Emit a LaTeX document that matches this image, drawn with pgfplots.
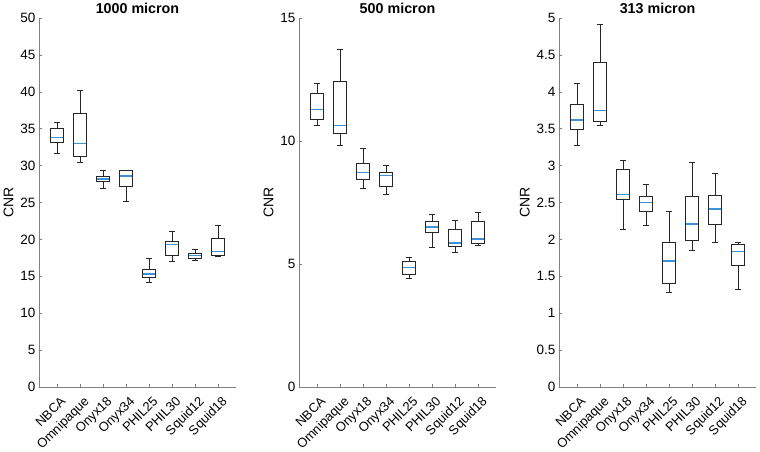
\documentclass[border=0pt]{standalone}
\usepackage{pgfplots}
\pgfplotsset{compat=1.18}
\usepgfplotslibrary{statistics}
\usepackage{fontspec}
\setmainfont{Liberation Sans}
\definecolor{mblue}{RGB}{60,145,215}
\definecolor{axgray}{RGB}{128,128,128}

\pgfplotsset{
  cnr/.style={
    scale only axis, width=197pt, height=369pt,
    anchor=south west,
    xmin=0.22, xmax=8.78,
    axis x line*=bottom, axis y line*=left,
    axis line style={-, axgray, line width=0.5pt},
    xtick={1,...,8},
    xticklabels={NBCA,Omnipaque,Onyx18,Onyx34,PHIL25,PHIL30,Squid12,Squid18},
    xticklabel style={font=\fontsize{13}{13}\selectfont, xshift=3pt, yshift=-7pt, rotate=45, anchor=north east, inner sep=1pt},
    yticklabel style={font=\fontsize{13.5}{13.5}\selectfont},
    tick align=inside, major tick length=3pt, tick style={axgray, line width=0.5pt},
    ylabel={CNR}, ylabel style={font=\fontsize{14}{14}\selectfont},
    title style={font=\bfseries\fontsize{14.3}{14.3}\selectfont, at={(0.5,1)}, anchor=base, yshift=-1pt},
    /pgf/number format/assume math mode=true,
    boxplot/draw direction=y,
    boxplot/box extend=0.56, boxplot/whisker extend=0.28,
    boxplot/every median/.style={mblue, line width=1.4pt},
  },
  bx/.style={black!85, line width=0.7pt, solid},
}

\begin{document}
\begin{tikzpicture}
\path[use as bounding box] (0,0) rectangle (760pt,451pt);

% ---------------- 1000 micron ----------------
\begin{axis}[cnr, at={(39pt,64pt)}, title={1000 micron},
  ymin=0, ymax=50, ytick={0,5,...,50}]
\addplot[bx, boxplot prepared={draw position=1, lower whisker=31.7, lower quartile=33.2, median=33.8, upper quartile=35.1, upper whisker=35.9}] coordinates {};
\addplot[bx, boxplot prepared={draw position=2, lower whisker=30.5, lower quartile=31.2, median=33.0, upper quartile=37.1, upper whisker=40.2}] coordinates {};
\addplot[bx, boxplot prepared={draw position=3, lower whisker=26.9, lower quartile=27.8, median=28.2, upper quartile=28.5, upper whisker=29.4}] coordinates {};
\addplot[bx, boxplot prepared={draw position=4, lower whisker=25.1, lower quartile=27.2, median=28.6, upper quartile=29.3, upper whisker=29.4}] coordinates {};
\addplot[bx, boxplot prepared={draw position=5, lower whisker=14.2, lower quartile=14.8, median=15.3, upper quartile=15.9, upper whisker=17.5}] coordinates {};
\addplot[bx, boxplot prepared={draw position=6, lower whisker=17.0, lower quartile=17.8, median=19.3, upper quartile=19.7, upper whisker=21.1}] coordinates {};
\addplot[bx, boxplot prepared={draw position=7, lower whisker=17.2, lower quartile=17.4, median=17.8, upper quartile=18.1, upper whisker=18.6}] coordinates {};
\addplot[bx, boxplot prepared={draw position=8, lower whisker=17.7, lower quartile=17.8, median=18.4, upper quartile=20.1, upper whisker=21.9}] coordinates {};
\end{axis}

% ---------------- 500 micron ----------------
\begin{axis}[cnr, at={(299pt,64pt)}, title={500 micron},
  ymin=0, ymax=15, ytick={0,5,10,15}]
\addplot[bx, boxplot prepared={draw position=1, lower whisker=10.63, lower quartile=10.89, median=11.28, upper quartile=11.95, upper whisker=12.33}] coordinates {};
\addplot[bx, boxplot prepared={draw position=2, lower whisker=9.84, lower quartile=10.32, median=10.62, upper quartile=12.43, upper whisker=13.71}] coordinates {};
\addplot[bx, boxplot prepared={draw position=3, lower whisker=8.09, lower quartile=8.45, median=8.73, upper quartile=9.10, upper whisker=9.69}] coordinates {};
\addplot[bx, boxplot prepared={draw position=4, lower whisker=7.85, lower quartile=8.15, median=8.60, upper quartile=8.72, upper whisker=9.02}] coordinates {};
\addplot[bx, boxplot prepared={draw position=5, lower whisker=4.43, lower quartile=4.57, median=4.86, upper quartile=5.12, upper whisker=5.28}] coordinates {};
\addplot[bx, boxplot prepared={draw position=6, lower whisker=5.68, lower quartile=6.29, median=6.50, upper quartile=6.73, upper whisker=7.02}] coordinates {};
\addplot[bx, boxplot prepared={draw position=7, lower whisker=5.49, lower quartile=5.73, median=5.85, upper quartile=6.42, upper whisker=6.79}] coordinates {};
\addplot[bx, boxplot prepared={draw position=8, lower whisker=5.76, lower quartile=5.85, median=6.02, upper quartile=6.73, upper whisker=7.10}] coordinates {};
\end{axis}

% ---------------- 313 micron ----------------
\begin{axis}[cnr, at={(559pt,64pt)}, title={313 micron},
  ymin=0, ymax=5, ytick={0,0.5,...,5},
  yticklabel style={/pgf/number format/fixed, /pgf/number format/precision=1}]
\addplot[bx, boxplot prepared={draw position=1, lower whisker=3.27, lower quartile=3.49, median=3.62, upper quartile=3.83, upper whisker=4.11}] coordinates {};
\addplot[bx, boxplot prepared={draw position=2, lower whisker=3.54, lower quartile=3.60, median=3.75, upper quartile=4.40, upper whisker=4.91}] coordinates {};
\addplot[bx, boxplot prepared={draw position=3, lower whisker=2.13, lower quartile=2.54, median=2.61, upper quartile=2.95, upper whisker=3.07}] coordinates {};
\addplot[bx, boxplot prepared={draw position=4, lower whisker=2.19, lower quartile=2.38, median=2.50, upper quartile=2.58, upper whisker=2.74}] coordinates {};
\addplot[bx, boxplot prepared={draw position=5, lower whisker=1.28, lower quartile=1.40, median=1.71, upper quartile=1.96, upper whisker=2.38}] coordinates {};
\addplot[bx, boxplot prepared={draw position=6, lower whisker=1.85, lower quartile=1.99, median=2.21, upper quartile=2.59, upper whisker=3.05}] coordinates {};
\addplot[bx, boxplot prepared={draw position=7, lower whisker=1.96, lower quartile=2.21, median=2.41, upper quartile=2.60, upper whisker=2.89}] coordinates {};
\addplot[bx, boxplot prepared={draw position=8, lower whisker=1.33, lower quartile=1.65, median=1.84, upper quartile=1.93, upper whisker=1.96}] coordinates {};
\end{axis}
\end{tikzpicture}
\end{document}
